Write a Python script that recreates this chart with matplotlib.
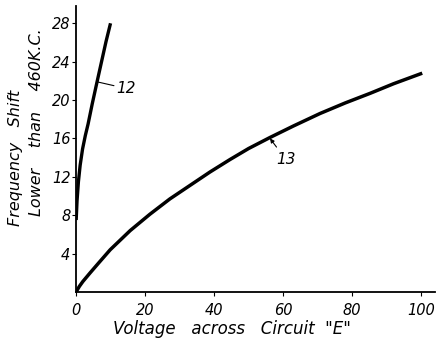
import numpy as np
import matplotlib.pyplot as plt

# curve 12 (steep) and curve 13 (slow)
v12 = [0.05, 0.3, 0.7, 1.2, 1.9, 2.7, 3.5, 4.7, 6.1, 7.4, 8.7, 10.0]
f12 = [7.5, 9.5, 11.5, 13.2, 14.9, 16.3, 17.5, 19.6, 21.9, 24.0, 26.1, 28.0]
v13 = [0, 1.0, 2.0, 4.1, 6.5, 9.9, 15.7, 21.4, 27.2, 33.0, 38.8, 44.6,
       50.0, 56.2, 63.0, 70.7, 78.0, 85.2, 92.0, 100.3]
f13 = [0, 0.6, 1.1, 2.0, 3.0, 4.4, 6.4, 8.1, 9.7, 11.1, 12.5, 13.8,
       14.95, 16.1, 17.3, 18.6, 19.7, 20.7, 21.7, 22.8]

xticks = [0, 20, 40, 60, 80, 100]
yticks = [4, 8, 12, 16, 20, 24, 28]

W, H = 438, 345
fig = plt.figure(figsize=(W / 100, H / 100), dpi=100)
# axes: x 0 at px 76, 3.45 px/unit; y 0 at px 292, 9.6 px/unit
ax = fig.add_axes([76 / W, 53 / H, 359 / W, 286 / H])

ax.plot(v12, f12, color='black', lw=2.4, solid_capstyle='butt')
ax.plot(v13, f13, color='black', lw=2.5, solid_capstyle='butt')

ax.set_xlim(0, 104)
ax.set_ylim(0, 29.8)
ax.set_xticks(xticks)
ax.set_yticks(yticks)
font = dict(style='italic', fontsize=10.5)
ax.set_xticklabels([str(t) for t in xticks], **font)
ax.set_yticklabels([str(t) for t in yticks], **font)
ax.tick_params(axis='x', length=3, width=0.8, pad=5)
ax.tick_params(axis='y', length=3, width=0.8, pad=1)
for s in ['top', 'right']:
    ax.spines[s].set_visible(False)
for s in ['left', 'bottom']:
    ax.spines[s].set_linewidth(1.3)

# axis titles placed by hand like the hand-lettered original
fig.text(232 / W, 1 - 329 / H, 'Voltage   across   Circuit  "E"',
         style='italic', fontsize=12, ha='center', va='center')
fig.text(16 / W, 1 - 226 / H, 'Frequency   Shift', style='italic',
         fontsize=11.5, rotation=90, ha='center', va='bottom')
fig.text(37 / W, 1 - 216 / H, 'Lower    than    460K.C.', style='italic',
         fontsize=11.5, rotation=90, ha='center', va='bottom')

ax.annotate('12', xy=(6.1, 21.9), xytext=(11.8, 21.2), fontsize=11,
            style='italic', va='center', ha='left',
            arrowprops=dict(arrowstyle='-', color='black', lw=0.8,
                            shrinkA=0, shrinkB=0))
ax.annotate('13', xy=(56.2, 16.0), xytext=(58.0, 13.8), fontsize=11,
            style='italic', va='center', ha='left',
            arrowprops=dict(arrowstyle='-|>', color='black', lw=0.8,
                            mutation_scale=6, shrinkA=2, shrinkB=0))

fig.savefig('out.png', dpi=100)
